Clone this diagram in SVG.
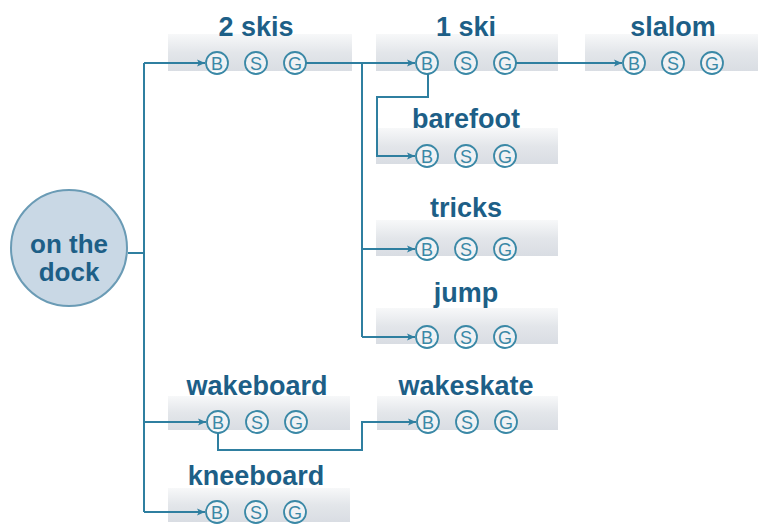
<svg xmlns="http://www.w3.org/2000/svg" width="758" height="526" viewBox="0 0 758 526">
<defs>
<linearGradient id="band" x1="0" y1="0" x2="0" y2="1">
<stop offset="0" stop-color="#f7f8f9"/>
<stop offset="0.5" stop-color="#e3e6ea"/>
<stop offset="1" stop-color="#d9dde3"/>
</linearGradient>
<marker id="arr" markerUnits="userSpaceOnUse" markerWidth="9" markerHeight="9" refX="8" refY="4.5" orient="auto">
<path d="M0,1 L8,4.5 L0,8 L1.8,4.5 Z" fill="#2f7fa0"/>
</marker>
</defs>
<style>
.box{fill:url(#band)}
.lbl{font-family:"Liberation Sans",Arial,sans-serif;font-weight:bold;font-size:27px;fill:#1d5f87;text-anchor:middle}
.dl{font-size:26px}
.c{fill:#ffffff;fill-opacity:0.55;stroke:#3a88a6;stroke-width:1.8}
.m{font-family:"Liberation Sans",Arial,sans-serif;font-size:18px;fill:#3a88a6;text-anchor:middle}
.ln{fill:none;stroke:#2f7fa0;stroke-width:2}
.dock{fill:#c9d8e5;stroke:#6a9bb5;stroke-width:2}
</style>

<g id="dock">
<circle class="dock" cx="69" cy="248" r="58"/>
<text class="lbl dl" x="69" y="253">on the</text>
<text class="lbl dl" x="69" y="281">dock</text>
</g>

<g id="skis2">
<rect class="box" x="168" y="34" width="184" height="37"/>
<text class="lbl" x="256" y="36">2 skis</text>
<circle class="c" cx="217" cy="63" r="11"/><text class="m" x="217" y="69.5">B</text>
<circle class="c" cx="256" cy="63" r="11"/><text class="m" x="256" y="69.5">S</text>
<circle class="c" cx="295" cy="63" r="11"/><text class="m" x="295" y="69.5">G</text>
</g>

<g id="ski1">
<rect class="box" x="376" y="34" width="182" height="37"/>
<text class="lbl" x="466" y="36">1 ski</text>
<circle class="c" cx="427" cy="63" r="11"/><text class="m" x="427" y="69.5">B</text>
<circle class="c" cx="466" cy="63" r="11"/><text class="m" x="466" y="69.5">S</text>
<circle class="c" cx="505" cy="63" r="11"/><text class="m" x="505" y="69.5">G</text>
</g>

<g id="slalom">
<rect class="box" x="585" y="34" width="173" height="37"/>
<text class="lbl" x="673" y="36">slalom</text>
<circle class="c" cx="634" cy="63" r="11"/><text class="m" x="634" y="69.5">B</text>
<circle class="c" cx="673" cy="63" r="11"/><text class="m" x="673" y="69.5">S</text>
<circle class="c" cx="712" cy="63" r="11"/><text class="m" x="712" y="69.5">G</text>
</g>

<g id="barefoot">
<rect class="box" x="376" y="128" width="182" height="36"/>
<text class="lbl" x="466" y="128">barefoot</text>
<circle class="c" cx="427" cy="156" r="11"/><text class="m" x="427" y="162.5">B</text>
<circle class="c" cx="466" cy="156" r="11"/><text class="m" x="466" y="162.5">S</text>
<circle class="c" cx="505" cy="156" r="11"/><text class="m" x="505" y="162.5">G</text>
</g>

<g id="tricks">
<rect class="box" x="376" y="220" width="182" height="36"/>
<text class="lbl" x="466" y="217">tricks</text>
<circle class="c" cx="427" cy="249" r="11"/><text class="m" x="427" y="255.5">B</text>
<circle class="c" cx="466" cy="249" r="11"/><text class="m" x="466" y="255.5">S</text>
<circle class="c" cx="505" cy="249" r="11"/><text class="m" x="505" y="255.5">G</text>
</g>

<g id="jump">
<rect class="box" x="376" y="308" width="182" height="36"/>
<text class="lbl" x="466" y="302">jump</text>
<circle class="c" cx="427" cy="337" r="11"/><text class="m" x="427" y="343.5">B</text>
<circle class="c" cx="466" cy="337" r="11"/><text class="m" x="466" y="343.5">S</text>
<circle class="c" cx="505" cy="337" r="11"/><text class="m" x="505" y="343.5">G</text>
</g>

<g id="wakeboard">
<rect class="box" x="168" y="396" width="182" height="34"/>
<text class="lbl" x="257" y="395">wakeboard</text>
<circle class="c" cx="218" cy="422" r="11"/><text class="m" x="218" y="428.5">B</text>
<circle class="c" cx="257" cy="422" r="11"/><text class="m" x="257" y="428.5">S</text>
<circle class="c" cx="296" cy="422" r="11"/><text class="m" x="296" y="428.5">G</text>
</g>

<g id="wakeskate">
<rect class="box" x="377" y="396" width="181" height="34"/>
<text class="lbl" x="466" y="395">wakeskate</text>
<circle class="c" cx="428" cy="422" r="11"/><text class="m" x="428" y="428.5">B</text>
<circle class="c" cx="467" cy="422" r="11"/><text class="m" x="467" y="428.5">S</text>
<circle class="c" cx="506" cy="422" r="11"/><text class="m" x="506" y="428.5">G</text>
</g>

<g id="kneeboard">
<rect class="box" x="168" y="488" width="182" height="34"/>
<text class="lbl" x="256" y="485">kneeboard</text>
<circle class="c" cx="217" cy="512" r="11"/><text class="m" x="217" y="518.5">B</text>
<circle class="c" cx="256" cy="512" r="11"/><text class="m" x="256" y="518.5">S</text>
<circle class="c" cx="295" cy="512" r="11"/><text class="m" x="295" y="518.5">G</text>
</g>

<g id="connectors">
<path class="ln" d="M128,253 H144"/>
<path class="ln" d="M144,63 V512"/>
<path class="ln" d="M144,63 H205" marker-end="url(#arr)"/>
<path class="ln" d="M144,422 H206" marker-end="url(#arr)"/>
<path class="ln" d="M144,512 H205" marker-end="url(#arr)"/>
<path class="ln" d="M306,63 H415" marker-end="url(#arr)"/>
<path class="ln" d="M362,63 V337"/>
<path class="ln" d="M362,249 H415" marker-end="url(#arr)"/>
<path class="ln" d="M362,337 H415" marker-end="url(#arr)"/>
<path class="ln" d="M516,63 H622" marker-end="url(#arr)"/>
<path class="ln" d="M428,74 V97 H377 V156 H415" marker-end="url(#arr)"/>
<path class="ln" d="M218,433 V450 H362 V422 H416" marker-end="url(#arr)"/>
</g>
</svg>
